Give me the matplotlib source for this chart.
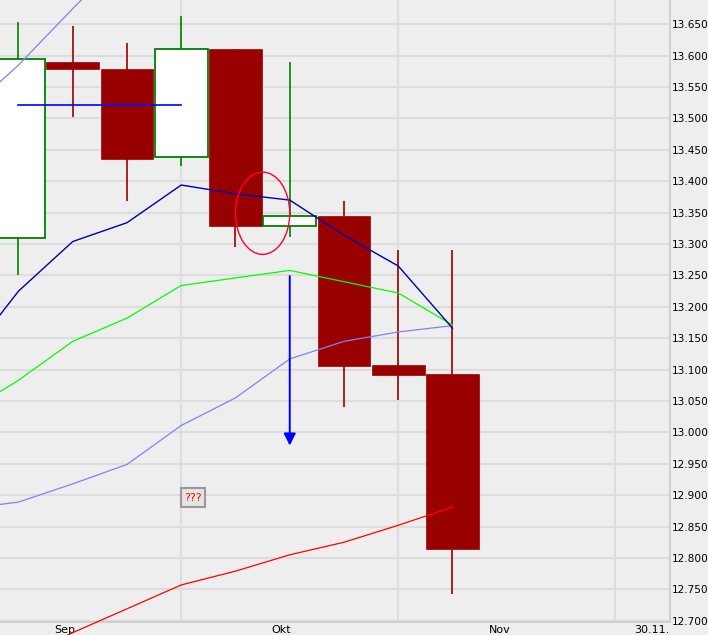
import matplotlib
matplotlib.use("Agg")
import matplotlib.pyplot as plt
from matplotlib.patches import Rectangle, Ellipse

# weekly candles (index 0 = first, partly visible candle)
opens = [13.309, 13.590, 13.579, 13.438, 13.611, 13.329, 13.345, 13.108, 13.093]
highs = [13.654, 13.647, 13.620, 13.663, 13.611, 13.590, 13.369, 13.291, 13.291]
lows = [13.251, 13.502, 13.368, 13.424, 13.296, 13.312, 13.040, 13.052, 12.743]
closes = [13.594, 13.579, 13.436, 13.610, 13.328, 13.344, 13.106, 13.092, 12.815]

# indicator lines, starting one week before the first visible candle
ma_idx = list(range(-1, 9))
ma_fast = [13.114, 13.225, 13.304, 13.334, 13.394, 13.380, 13.370, 13.314, 13.265, 13.166]
ma_mid = [13.030, 13.083, 13.145, 13.182, 13.234, 13.246, 13.258, 13.240, 13.222, 13.171]
band_low = [12.878, 12.889, 12.918, 12.949, 13.011, 13.055, 13.117, 13.145, 13.160, 13.170]
band_up_idx = [-1, 0, 1, 2]
band_up = [13.507, 13.585, 13.675, 13.762]
ma_slow = [12.600, 12.640, 12.681, 12.719, 12.757, 12.779, 12.805, 12.825, 12.852, 12.881]

# drawings on the chart
hline_from, hline_to, hline_level = 0, 3, 13.522
arrow_at, arrow_start, arrow_end = 5, 13.249, 12.979
ellipse_at, ellipse_level = 4.5, 13.349
note_at, note_level, note_text = 3, 12.896, "???"

xtick_pos = [0.857, 4.84, 8.88, 11.68]
xtick_labels = ["Sep", "Okt", "Nov", "30.11."]
ytick_vals = [12.70 + 0.05 * k for k in range(20)]

bg = "#eeeeee"
grid_c = "#dddddd"
bear = "#990000"
bull = "#008000"

fig = plt.figure(figsize=(7.08, 6.35), dpi=100, facecolor=bg)
ax = fig.add_axes([0, 0.0205, 669.5 / 708, 1 - 0.0205])
ax.set_facecolor(bg)

ax.set_xlim(-0.341, 12.0)
ax.set_ylim(12.698, 13.6887)

# grid
for v in ytick_vals:
    ax.axhline(v, color=grid_c, lw=1.5, zorder=0)
for gx in [3, 7, 11]:
    ax.axvline(gx, color=grid_c, lw=1.5, zorder=0)

# candles
w = 0.97
for i, (o, h, l, c) in enumerate(zip(opens, highs, lows, closes)):
    up = c >= o
    col = bull if up else bear
    ax.plot([i, i], [l, h], color=col, lw=1.2, zorder=2, solid_capstyle="butt")
    lo, hi = min(o, c), max(o, c)
    if up:
        ax.add_patch(Rectangle((i - w / 2, lo), w, hi - lo, facecolor="white",
                               edgecolor=col, lw=1.3, zorder=3))
    else:
        ax.add_patch(Rectangle((i - w / 2, lo), w, hi - lo, facecolor=col,
                               edgecolor=col, lw=0.5, zorder=3))

# indicator lines
ax.plot(band_up_idx, band_up, color="#8080ff", lw=0.9, zorder=4)
ax.plot(ma_idx, band_low, color="#8080ff", lw=0.9, zorder=4)
ax.plot(ma_idx, ma_mid, color="#00ff00", lw=0.9, zorder=4)
ax.plot(ma_idx, ma_slow, color="#ff0000", lw=0.9, zorder=4, clip_on=False)
ax.plot(ma_idx, ma_fast, color="#0000aa", lw=1.0, zorder=4)

# drawings
ax.plot([hline_from, hline_to], [hline_level, hline_level], color="#0000ff", lw=1.2, zorder=5)
ax.add_patch(Ellipse((ellipse_at, ellipse_level), 1.0, 0.131, fill=False,
                     edgecolor="#ff0033", lw=1.0, zorder=5))
ax.annotate("", xy=(arrow_at, arrow_end), xytext=(arrow_at, arrow_start),
            arrowprops=dict(arrowstyle="-|>,head_length=0.5,head_width=0.25",
                            color="#0000ff", lw=1.4, mutation_scale=14.4,
                            shrinkA=0, shrinkB=0), zorder=5)
ax.add_patch(Rectangle((note_at, note_level - 0.015), 0.43, 0.030, facecolor="#e4e4e4",
                       edgecolor="#999999", lw=1.5, zorder=5))
ax.text(note_at + 0.215, note_level, note_text, color="#ff0000", fontsize=8,
        ha="center", va="center", zorder=6)

# axes styling
for s in ["top", "left"]:
    ax.spines[s].set_visible(False)
for s in ["right", "bottom"]:
    ax.spines[s].set_color("#cccccc")
    ax.spines[s].set_linewidth(1.2)

ax.yaxis.tick_right()
ax.set_yticks(ytick_vals)
ax.set_yticklabels([f"{v:.3f}" for v in ytick_vals], fontsize=7.6)
ax.tick_params(axis="y", length=0, pad=1.5)
ax.set_xticks(xtick_pos)
ax.set_xticklabels(xtick_labels, fontsize=8)
ax.tick_params(axis="x", length=0, pad=2)

fig.savefig("out.png", dpi=100, facecolor=bg)
